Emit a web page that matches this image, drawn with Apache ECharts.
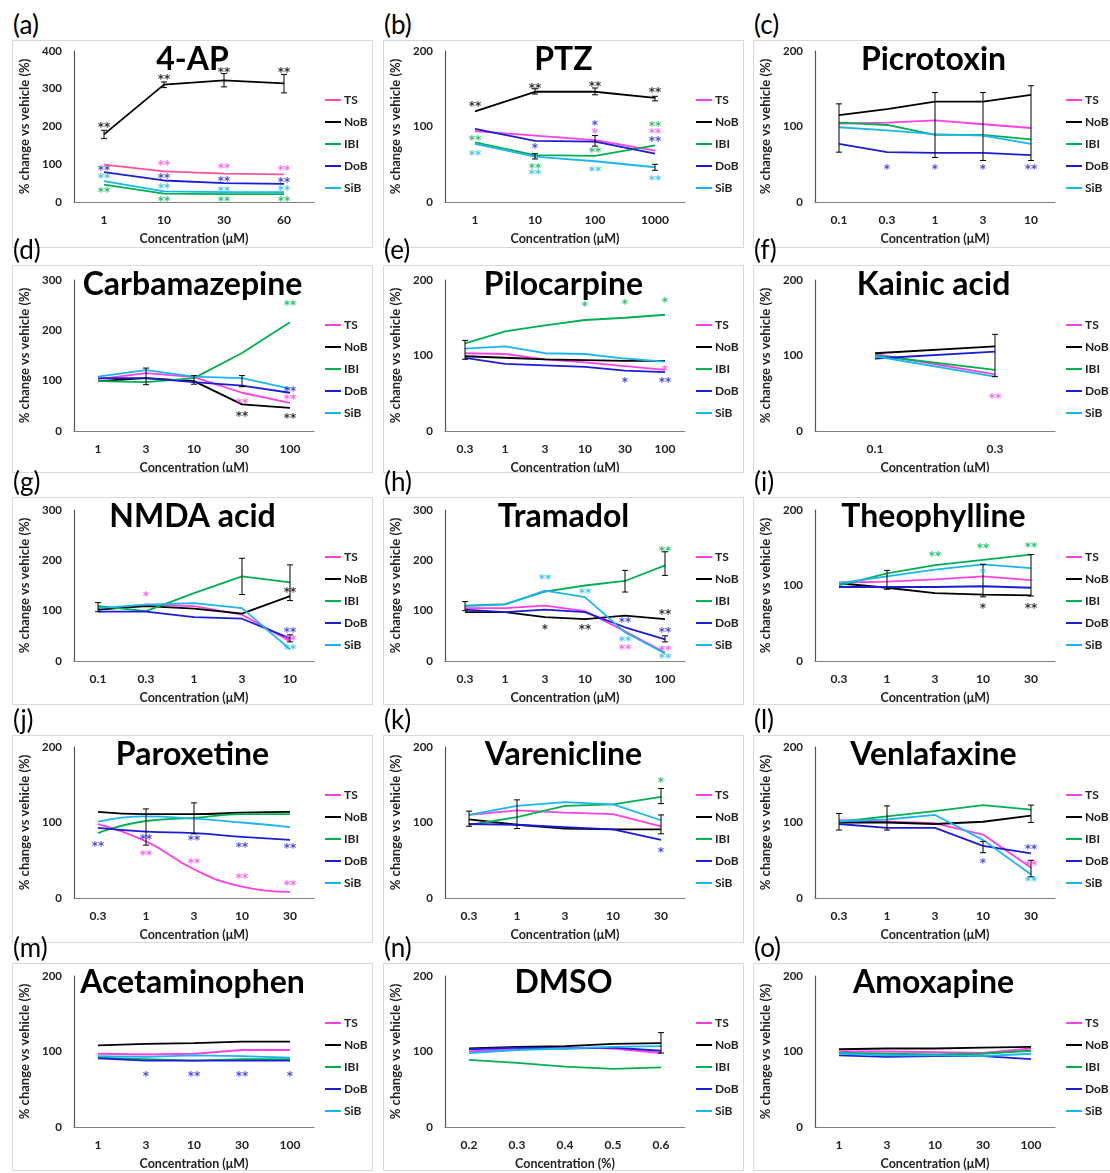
<!DOCTYPE html>
<html>
<head>
<meta charset="utf-8">
<script src="https://cdn.jsdelivr.net/npm/echarts@6/dist/echarts.min.js"></script>
<style>
  body { margin: 0; background: #fff; }
  #page { position: relative; width: 1110px; height: 1173px; overflow: hidden; background: #fff; }
  .panel { position: absolute; width: 361px; height: 208px; border: 1px solid #d9d9d9; box-sizing: border-box; }
  .tag { position: absolute; font: 26px Lato, sans-serif; line-height: 30px; color: #000; }
</style>
</head>
<body>
<div id="page"></div>
<script>
// series names, same in every panel
const NAMES = ['TS', 'NoB', 'IBI', 'DoB', 'SiB'];

// (a) 4-AP
const catsA = ['1', '10', '30', '60'];
const valsA = { TS: [99, 81, 75, 73], NoB: [179, 311, 322, 314], IBI: [46, 22, 21, 21], DoB: [79, 57, 50, 48], SiB: [55, 28, 26, 26] };
const starsA = [['NoB', 0, 205, '**'], ['NoB', 1, 332, '**'], ['NoB', 2, 351, '**'], ['NoB', 3, 349, '**'],
  ['TS', 1, 104, '**'], ['TS', 2, 95, '**'], ['TS', 3, 90, '**'],
  ['DoB', 0, 90, '**'], ['DoB', 1, 68, '**'], ['DoB', 2, 61, '**'], ['DoB', 3, 59, '**'],
  ['SiB', 0, 68, '**'], ['SiB', 1, 42, '**'], ['SiB', 2, 35, '**'], ['SiB', 3, 37, '**'],
  ['IBI', 0, 31, '**'], ['IBI', 1, 8, '**'], ['IBI', 2, 8, '**'], ['IBI', 3, 8, '**']];
const errsA = [[0, 168, 190], [1, 303, 318], [2, 305, 340], [3, 289, 338]];

// (b) PTZ
const catsB = ['1', '10', '100', '1000'];
const valsB = { TS: [94, 88, 82, 68], NoB: [120, 146, 146, 138], IBI: [79, 62, 61, 75], DoB: [97, 81, 80, 64], SiB: [77, 60, 54, 46] };
const starsB = [['NoB', 0, 130, '**'], ['NoB', 1, 154, '**'], ['NoB', 2, 156, '**'], ['NoB', 3, 149, '**'],
  ['IBI', 0, 85, '**'], ['IBI', 1, 48, '**'], ['IBI', 2, 69, '**'], ['IBI', 3, 103, '**'],
  ['SiB', 0, 65, '**'], ['SiB', 1, 40, '**'], ['SiB', 2, 44, '**'], ['SiB', 3, 32, '**'],
  ['DoB', 1, 75, '*'], ['DoB', 2, 105, '*'], ['TS', 2, 94, '*'], ['TS', 3, 94, '**'], ['DoB', 3, 83, '**']];
const errsB = [[1, 143, 150], [2, 142, 151], [3, 134, 140], [2, 74, 88], [3, 42, 50], [1, 57, 64]];

// (c) Picrotoxin
const catsC = ['0.1', '0.3', '1', '3', '10'];
const valsC = { TS: [104, 105, 108, 103, 98], NoB: [115, 123, 133, 133, 142], IBI: [105, 102, 89, 89, 83], DoB: [77, 66, 65, 65, 62], SiB: [99, 95, 90, 88, 77] };
const starsC = [['DoB', 1, 47, '*'], ['DoB', 2, 47, '*'], ['DoB', 3, 47, '*'], ['DoB', 4, 47, '**']];
const errsC = [[0, 66, 130], [2, 59, 145], [3, 55, 145], [4, 55, 154]];

// (d) Carbamazepine
const catsD = ['1', '3', '10', '30', '100'];
const valsD = { TS: [103, 115, 107, 76, 56], NoB: [99, 105, 99, 53, 46], IBI: [99, 97, 105, 155, 216], DoB: [105, 105, 97, 90, 76], SiB: [108, 121, 108, 105, 84] };
const starsD = [['IBI', 4, 254, '**'], ['DoB', 4.2, 84, '**'], ['TS', 4.2, 67, '**'], ['TS', 3.15, 59, '**'],
  ['NoB', 3.15, 34, '**'], ['NoB', 4.15, 30, '**']];
const errsD = [[1, 92, 125], [2, 93, 110], [3, 88, 110]];

// (e) Pilocarpine
const catsE = ['0.3', '1', '3', '10', '30', '100'];
const valsE = { TS: [103, 102, 95, 91, 86, 81], NoB: [99, 97, 95, 94, 93, 93], IBI: [116, 132, 140, 147, 150, 154], DoB: [97, 89, 87, 85, 80, 78], SiB: [109, 112, 103, 102, 96, 92] };
const starsE = [['IBI', 3, 168, '*'], ['IBI', 4, 171, '*'], ['IBI', 5, 174, '*'], ['TS', 5.15, 83, '*'],
  ['DoB', 4, 68, '*'], ['DoB', 5.2, 68, '**']];
const errsE = [[0, 95, 120]];

// (f) Kainic acid
const catsF = ['0.1', '0.3'];
const valsF = { TS: [102, 75], NoB: [103, 112], IBI: [100, 81], DoB: [96, 105], SiB: [99, 72] };
const starsF = [['TS', 1, 47, '**']];
const errsF = [[1, 72, 128]];

// (g) NMDA acid
const catsG = ['0.1', '0.3', '1', '3', '10'];
const valsG = { TS: [102, 112, 109, 92, 40], NoB: [102, 109, 104, 94, 129], IBI: [109, 99, 135, 168, 156], DoB: [98, 98, 87, 84, 45], SiB: [105, 112, 115, 105, 23] };
const starsG = [['TS', 1, 134, '*'], ['NoB', 4.2, 142, '**'], ['DoB', 4.2, 61, '**'], ['TS', 4.2, 45, '**'], ['SiB', 4.2, 28, '**']];
const errsG = [[0, 98, 116], [3, 132, 204], [4, 120, 191], [4, 38, 52]];

// (h) Tramadol
const catsH = ['0.3', '1', '3', '10', '30', '100'];
const valsH = { TS: [105, 105, 110, 99, 59, 17], NoB: [97, 97, 87, 83, 90, 83], IBI: [110, 113, 138, 150, 159, 190], DoB: [102, 97, 102, 97, 67, 43], SiB: [109, 112, 140, 127, 57, 15] };
const starsH = [['IBI', 5, 223, '**'], ['SiB', 2, 167, '**'], ['SiB', 3.15, 140, '**'], ['NoB', 2, 67, '*'],
  ['NoB', 3, 67, '**'], ['NoB', 5, 97, '**'], ['DoB', 4, 82, '**'], ['DoB', 5, 61, '**'], ['SiB', 4, 43, '**'],
  ['TS', 4, 28, '**'], ['TS', 5.2, 27, '**'], ['SiB', 5.2, 10, '**']];
const errsH = [[4, 137, 180], [5, 170, 217], [5, 38, 50], [0, 100, 118]];

// (i) Theophylline
const catsI = ['0.3', '1', '3', '10', '30'];
const valsI = { TS: [104, 105, 108, 112, 107], NoB: [103, 97, 90, 88, 87], IBI: [100, 116, 127, 134, 141], DoB: [98, 98, 98, 99, 97], SiB: [103, 112, 121, 128, 123] };
const starsI = [['IBI', 2, 142, '**'], ['IBI', 3, 152, '**'], ['IBI', 4, 154, '**'], ['SiB', 3.1, 120, '*'],
  ['NoB', 3, 73, '*'], ['NoB', 4, 73, '**']];
const errsI = [[1, 95, 120], [3, 85, 128], [4, 86, 141]];

// (j) Paroxetine
const catsJ = ['0.3', '1', '3', '10', '30'];
const valsJ = { TS: [98, 75, 38, 15, 8], NoB: [114, 111, 111, 113, 114], IBI: [86, 102, 106, 111, 111], DoB: [93, 88, 86, 81, 77], SiB: [101, 108, 105, 100, 94] };
const starsJ = [['DoB', -0.07, 72, '**'], ['DoB', 1.2, 81, '**'], ['DoB', 2, 80, '**'], ['DoB', 3, 70, '**'], ['DoB', 4, 69, '**'],
  ['TS', 1, 60, '**'], ['TS', 2, 49, '**'], ['TS', 3, 29, '**'], ['TS', 4, 20, '**']];
const errsJ = [[1, 70, 118], [2, 85, 126]];

// (k) Varenicline
const catsK = ['0.3', '1', '3', '10', '30'];
const valsK = { TS: [110, 116, 113, 111, 95], NoB: [104, 97, 92, 91, 91], IBI: [97, 107, 122, 124, 134], DoB: [98, 97, 94, 91, 77], SiB: [110, 122, 127, 124, 103] };
const starsK = [['IBI', 4, 156, '*'], ['DoB', 4, 64, '*']];
const errsK = [[0, 95, 115], [1, 92, 130], [4, 125, 145], [4, 85, 110]];

// (l) Venlafaxine
const catsL = ['0.3', '1', '3', '10', '30'];
const valsL = { TS: [103, 101, 99, 84, 40], NoB: [100, 100, 98, 101, 109], IBI: [101, 108, 115, 123, 117], DoB: [98, 93, 93, 69, 59], SiB: [102, 104, 110, 77, 31] };
const starsL = [['DoB', 3, 49, '*'], ['DoB', 4.25, 68, '**'], ['TS', 4.25, 47, '**'], ['SiB', 4.25, 25, '**']];
const errsL = [[0, 90, 112], [1, 90, 122], [4, 100, 123], [3, 60, 75], [4, 28, 50]];

// (m) Acetaminophen
const catsM = ['1', '3', '10', '30', '100'];
const valsM = { TS: [97, 96, 97, 102, 102], NoB: [108, 110, 111, 113, 113], IBI: [92, 90, 88, 90, 90], DoB: [91, 88, 88, 88, 88], SiB: [94, 93, 95, 94, 92] };
const starsM = [['DoB', 1, 71, '*'], ['DoB', 2, 71, '**'], ['DoB', 3, 71, '**'], ['DoB', 4, 71, '*']];
const errsM = [];

// (n) DMSO
const catsN = ['0.2', '0.3', '0.4', '0.5', '0.6'];
const valsN = { TS: [100, 104, 106, 104, 98], NoB: [104, 106, 107, 110, 111], IBI: [89, 85, 80, 77, 79], DoB: [103, 105, 104, 105, 101], SiB: [98, 102, 104, 106, 107] };
const starsN = [];
const errsN = [[4, 98, 125]];

// (o) Amoxapine
const catsO = ['1', '3', '10', '30', '100'];
const valsO = { TS: [100, 100, 99, 98, 104], NoB: [103, 104, 104, 105, 106], IBI: [98, 97, 96, 97, 101], DoB: [95, 93, 94, 94, 90], SiB: [97, 95, 95, 94, 97] };
const starsO = [];
const errsO = [];

const panels = [
  { tag: '(a)', title: '4-AP', yMax: 400, cats: catsA, vals: valsA, stars: starsA, errs: errsA, tsColor: '#ff4f9b' },
  { tag: '(b)', title: 'PTZ', yMax: 200, cats: catsB, vals: valsB, stars: starsB, errs: errsB },
  { tag: '(c)', title: 'Picrotoxin', yMax: 200, cats: catsC, vals: valsC, stars: starsC, errs: errsC },
  { tag: '(d)', title: 'Carbamazepine', yMax: 300, cats: catsD, vals: valsD, stars: starsD, errs: errsD },
  { tag: '(e)', title: 'Pilocarpine', yMax: 200, cats: catsE, vals: valsE, stars: starsE, errs: errsE },
  { tag: '(f)', title: 'Kainic acid', yMax: 200, cats: catsF, vals: valsF, stars: starsF, errs: errsF },
  { tag: '(g)', title: 'NMDA acid', yMax: 300, cats: catsG, vals: valsG, stars: starsG, errs: errsG },
  { tag: '(h)', title: 'Tramadol', yMax: 300, cats: catsH, vals: valsH, stars: starsH, errs: errsH },
  { tag: '(i)', title: 'Theophylline', yMax: 200, cats: catsI, vals: valsI, stars: starsI, errs: errsI },
  { tag: '(j)', title: 'Paroxetine', yMax: 200, cats: catsJ, vals: valsJ, stars: starsJ, errs: errsJ, smooth: true },
  { tag: '(k)', title: 'Varenicline', yMax: 200, cats: catsK, vals: valsK, stars: starsK, errs: errsK },
  { tag: '(l)', title: 'Venlafaxine', yMax: 200, cats: catsL, vals: valsL, stars: starsL, errs: errsL },
  { tag: '(m)', title: 'Acetaminophen', yMax: 200, cats: catsM, vals: valsM, stars: starsM, errs: errsM },
  { tag: '(n)', title: 'DMSO', yMax: 200, cats: catsN, vals: valsN, stars: starsN, errs: errsN, xName: 'Concentration (%)' },
  { tag: '(o)', title: 'Amoxapine', yMax: 200, cats: catsO, vals: valsO, stars: starsO, errs: errsO }
];

const LINE_COLORS = { TS: '#ff40e6', NoB: '#000000', IBI: '#00b050', DoB: '#1c1cd6', SiB: '#19b6f2' };
const COL_X = [12, 383, 753];
const ROW_Y = [40, 265, 497, 735, 963];
const GRID_TOP = [10, 14, 12, 11, 12];
const FONT = 'Lato, "Liberation Sans", sans-serif';

function errorBar(params, api) {
  const x = api.value(0);
  const top = api.coord([x, api.value(2)]);
  const bot = api.coord([x, api.value(1)]);
  const st = { stroke: '#000', lineWidth: 1 };
  return {
    type: 'group',
    children: [
      { type: 'line', shape: { x1: top[0], y1: top[1], x2: bot[0], y2: bot[1] }, style: st },
      { type: 'line', shape: { x1: top[0] - 3, y1: top[1], x2: top[0] + 3, y2: top[1] }, style: st },
      { type: 'line', shape: { x1: bot[0] - 3, y1: bot[1], x2: bot[0] + 3, y2: bot[1] }, style: st }
    ]
  };
}

const page = document.getElementById('page');

panels.forEach((p, i) => {
  const col = i % 3, row = Math.floor(i / 3);
  const tag = document.createElement('div');
  tag.className = 'tag';
  tag.textContent = p.tag;
  tag.style.left = (COL_X[col] + 1) + 'px';
  tag.style.top = (ROW_Y[row] - 31) + 'px';
  page.appendChild(tag);

  const box = document.createElement('div');
  box.className = 'panel';
  box.style.left = COL_X[col] + 'px';
  box.style.top = ROW_Y[row] + 'px';
  page.appendChild(box);

  const colors = Object.assign({}, LINE_COLORS, p.tsColor ? { TS: p.tsColor } : {});
  const chart = echarts.init(box, null, { renderer: 'canvas' });

  const series = NAMES.map(n => ({
    name: n,
    type: 'line',
    data: p.vals[n],
    symbol: 'none',
    smooth: p.smooth || false,
    lineStyle: { width: 1.8, color: colors[n] },
    itemStyle: { color: colors[n] },
    z: 3
  }));

  series.push({
    type: 'custom',
    name: 'err',
    data: p.errs,
    renderItem: errorBar,
    encode: { x: 0, y: [1, 2] },
    silent: true,
    z: 4
  });

  NAMES.forEach(n => {
    const pts = p.stars.filter(s => s[0] === n).map(s => ({ value: [s[1], s[2]], name: s[3] }));
    if (!pts.length) return;
    series.push({
      type: 'scatter',
      name: n + ' sig',
      data: pts,
      symbolSize: 1,
      itemStyle: { color: 'rgba(0,0,0,0)' },
      label: {
        show: true, position: 'inside', formatter: '{b}',
        color: colors[n] === '#ff4f9b' ? '#ff44ff' : colors[n],
        fontSize: 12, fontWeight: 'bold', fontFamily: '"DejaVu Sans", sans-serif', offset: [0, 3]
      },
      silent: true,
      z: 5
    });
  });

  chart.setOption({
    animation: false,
    backgroundColor: '#fff',
    title: {
      text: p.title,
      left: 'center',
      top: -2,
      textStyle: { fontFamily: FONT, fontSize: 32, fontWeight: 'bold', color: '#000' }
    },
    legend: {
      data: NAMES,
      orient: 'vertical',
      left: 307,
      top: 47,
      itemGap: 8,
      itemWidth: 16,
      itemHeight: 2,
      icon: 'rect',
      selectedMode: false,
      textStyle: { fontFamily: FONT, fontSize: 12, lineHeight: 14, fontWeight: 'bold', color: '#222', padding: [0, 0, 0, -2] }
    },
    grid: { left: 61, top: GRID_TOP[row], width: 240, height: 151, outerBoundsMode: 'none' },
    xAxis: {
      type: 'category',
      data: p.cats,
      boundaryGap: true,
      name: p.xName || 'Concentration (μM)',
      nameLocation: 'middle',
      nameGap: 30,
      nameTextStyle: { fontFamily: FONT, fontSize: 12.5, fontWeight: 'bold', color: '#222' },
      axisLine: { lineStyle: { color: '#7f7f7f', width: 1.2 } },
      axisTick: { show: false },
      axisLabel: { interval: 0, margin: 12, fontFamily: FONT, fontSize: 12, fontWeight: 'bold', color: '#222' }
    },
    yAxis: {
      type: 'value',
      min: 0,
      max: p.yMax,
      interval: 100,
      name: '% change vs vehicle (%)',
      nameLocation: 'middle',
      nameGap: 39,
      nameTextStyle: { fontFamily: FONT, fontSize: 13, fontWeight: 'bold', color: '#222' },
      axisLine: { show: true, lineStyle: { color: '#555', width: 1.2 } },
      axisTick: { show: false },
      splitLine: { show: false },
      axisLabel: { margin: 12, fontFamily: FONT, fontSize: 11.5, fontWeight: 'bold', color: '#222' }
    },
    series: series
  });
});
</script>
</body>
</html>
